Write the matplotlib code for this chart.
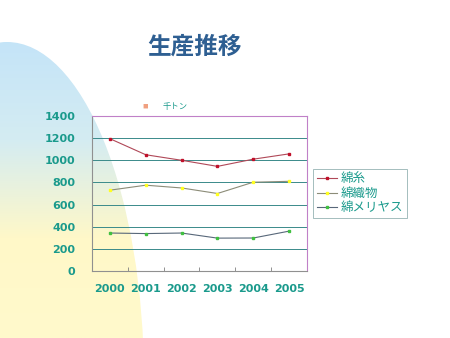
import numpy as np
import matplotlib
matplotlib.use("Agg")
import matplotlib.pyplot as plt
from matplotlib.patches import Ellipse
from matplotlib.colors import LinearSegmentedColormap

plt.rcParams['font.family'] = ['Noto Sans CJK JP', 'DejaVu Sans']

years = ['2000', '2001', '2002', '2003', '2004', '2005']
series_names = ['綿糸', '綿織物', '綿メリヤス']
menshi = [1195, 1050, 1000, 945, 1010, 1058]
senshokubutsu = [730, 775, 750, 700, 802, 810]
meriyasu = [343, 338, 343, 297, 298, 360]
yticks = [0, 200, 400, 600, 800, 1000, 1200, 1400]

marker_colors = ['#c0102a', '#ffff20', '#40c040']
line_colors = ['#b04858', '#8c8c78', '#58687a']
teal = '#1a9a8c'

W, H = 450, 338
fig = plt.figure(figsize=(W / 100, H / 100), dpi=100)
fig.patch.set_facecolor('white')

# background gradient shape (pixel coords, y up)
bg = fig.add_axes([0, 0, 1, 1])
bg.set_xlim(0, W)
bg.set_ylim(0, H)
bg.axis('off')
cmap = LinearSegmentedColormap.from_list('bg', ['#c4e4f8', '#d4ecf2', '#fff8c8', '#fffacc'])
grad = np.linspace(0, 1, 256).reshape(-1, 1)
img = bg.imshow(grad, extent=[0, 150, 0, 298], aspect='auto', cmap=cmap, origin='upper')
ell = Ellipse((7, -42), 274, 676, transform=bg.transData, facecolor='none', edgecolor='none')
bg.add_patch(ell)
img.set_clip_path(ell)
bg.set_xlim(0, W)
bg.set_ylim(0, H)

fig.text(195 / W, 1 - 47 / H, '生産推移', fontsize=17, fontweight='bold',
         color='#2e5f92', ha='center', va='center')
fig.text(145 / W, 1 - 106 / H, '■', fontsize=4, color='#f0a080', ha='center', va='center')
fig.text(163 / W, 1 - 106 / H, '千トン', fontsize=6, color=teal, ha='left', va='center')

ax = fig.add_axes([92 / W, 1 - 271 / H, 215 / W, 155 / H])
ax.patch.set_alpha(0)
x = np.arange(len(years))
for vals, name, mc, lc in zip([menshi, senshokubutsu, meriyasu], series_names, marker_colors, line_colors):
    ax.plot(x, vals, color=lc, lw=0.8, marker='s', ms=2, mfc=mc, mec=mc, label=name)

ax.set_xlim(-0.5, len(years) - 0.5)
ax.set_ylim(0, 1400)
ax.set_yticks(yticks)
ax.set_yticklabels([str(v) for v in yticks])
ax.set_xticks(x)
ax.set_xticklabels(years)
ax.set_xticks(np.arange(-0.5, len(years)), minor=True)
ax.tick_params(axis='x', which='major', length=0, pad=9)
ax.tick_params(axis='x', which='minor', length=3, direction='in', color='#808080')
ax.tick_params(axis='y', length=0, pad=12)
for lab in ax.get_xticklabels() + ax.get_yticklabels():
    lab.set_color(teal)
    lab.set_fontweight('bold')
    lab.set_fontsize(8)
    lab.set_family(['DejaVu Sans'])
ax.grid(axis='y', color='#3a8a8a', lw=0.7)
ax.set_axisbelow(True)
ax.spines['top'].set_color('#c080c8')
ax.spines['right'].set_color('#c080c8')
ax.spines['left'].set_color('#909090')
ax.spines['bottom'].set_color('#909090')

leg = ax.legend(loc='center left', bbox_to_anchor=(1.0, 0.5), fontsize=9,
                frameon=True, fancybox=False, handlelength=1.6, handletextpad=0.3,
                borderpad=0.3, labelspacing=0.1, markerscale=0.8)
leg.get_frame().set_edgecolor('#7aa0a0')
leg.get_frame().set_linewidth(0.6)
for t in leg.get_texts():
    t.set_color(teal)

fig.savefig('out.png', dpi=100)
